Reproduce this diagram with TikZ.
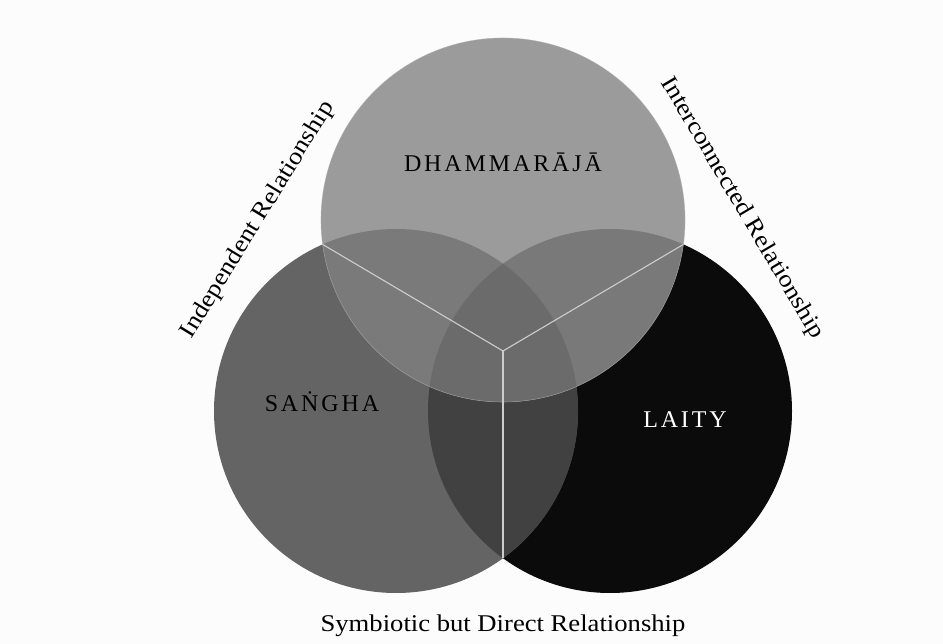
\documentclass[tikz,border=0pt]{standalone}
\usepackage{fontspec}
\setmainfont{Liberation Serif}
\newfontfamily\spacedcaps[LetterSpace=12]{Liberation Serif}
\newfontfamily\widelabel[FakeStretch=1.11]{Liberation Serif}
\usepackage{tikz}
\usetikzlibrary{positioning}

\definecolor{bgcol}{RGB}{252,252,252}
\definecolor{dhammacol}{RGB}{155,155,155}
\definecolor{sanghacol}{RGB}{100,100,100}
\definecolor{laitycol}{RGB}{11,11,11}
\definecolor{dhasancol}{RGB}{122,122,122}
\definecolor{dhalaicol}{RGB}{121,121,121}
\definecolor{sanlaicol}{RGB}{65,65,65}
\definecolor{allcol}{RGB}{107,107,107}
\definecolor{divcol}{RGB}{205,205,205}
\definecolor{rimcol}{RGB}{170,170,170}

\begin{document}
\begin{tikzpicture}[x=1pt,y=-1pt,
  capslabel/.style={font=\spacedcaps\fontsize{24}{28}\selectfont, anchor=base, inner sep=0pt},
  sidelabel/.style={font=\widelabel\fontsize{24}{28}\selectfont, inner sep=0pt},
  divider/.style={draw=divcol, line width=1.1pt}]
 \useasboundingbox[fill=bgcol] (0,0) rectangle (943,644);
 % circle centres
 \coordinate (topc) at (503,220);
 \coordinate (lftc) at (396,411);
 \coordinate (rgtc) at (610,411);
 % where the circles cross
 \coordinate (mid) at (503,351);
 \coordinate (tlx) at (322.6,244.4);
 \coordinate (trx) at (683.4,244.4);
 \coordinate (botx) at (503,558);

 \fill[laitycol] (rgtc) circle (182pt);
 \fill[sanghacol] (lftc) circle (182pt);
 \begin{scope}
  \clip (lftc) circle (182pt);
  \fill[sanlaicol] (rgtc) circle (182pt);
 \end{scope}
 \fill[dhammacol] (topc) circle (182pt);
 \begin{scope}
  \clip (topc) circle (182pt);
  \fill[dhasancol] (lftc) circle (182pt);
  \fill[dhalaicol] (rgtc) circle (182pt);
  \clip (lftc) circle (182pt);
  \fill[allcol] (rgtc) circle (182pt);
 \end{scope}
 \draw[rimcol, line width=0.6pt, opacity=0.6] (topc) circle (182pt);

 \draw[divider] (mid) -- (tlx);
 \draw[divider] (mid) -- (trx);
 \draw[divider] (mid) -- (botx);

 \node[capslabel] (dhamma) at (503,172) {DHAMMARĀJĀ};
 \node[capslabel] (sangha) at (322,411) {SAṄGHA};
 \node[capslabel,text=white] (laity) at (685,428) {LAITY};

 \node[sidelabel,rotate=58.6] (indep) at (258,220) {Independent Relationship};
 \node[sidelabel,rotate=-59.4] (inter) at (742,208) {Interconnected Relationship};
 \node[sidelabel] (symb) at (503,626) {Symbiotic but Direct Relationship};
\end{tikzpicture}
\end{document}
